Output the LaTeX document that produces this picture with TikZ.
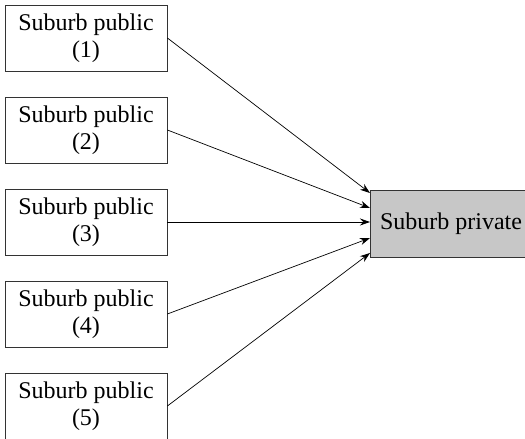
\documentclass[tikz,border=0pt]{standalone}
\usepackage{fontspec}
\setmainfont{Liberation Serif}
\usetikzlibrary{arrows.meta}
\begin{document}
\begin{tikzpicture}[x=1pt,y=1pt,
  pubbox/.style={draw=black!80,line width=0.8pt,minimum width=162pt,minimum height=66pt,inner sep=0pt,align=center,font=\fontsize{24}{27}\selectfont},
  privbox/.style={draw=black!80,line width=0.8pt,fill=black!22,minimum width=162pt,minimum height=67pt,inner sep=0pt,align=center,font=\fontsize{24}{27}\selectfont},
  conn/.style={line width=0.7pt,-{Stealth[length=10pt,width=7pt]}}]
\useasboundingbox (0,0) rectangle (525,439);
\begin{scope}
\clip (0,0) rectangle (525,439);
\node[pubbox] (p1) at (86,401) {Suburb public\\(1)};
\node[pubbox] (p2) at (86,309) {Suburb public\\(2)};
\node[pubbox] (p3) at (86,217) {Suburb public\\(3)};
\node[pubbox] (p4) at (86,125) {Suburb public\\(4)};
\node[pubbox] (p5) at (86,33) {Suburb public\\(5)};
\node[privbox] (pr) at (451,215.5) {Suburb private};
\coordinate (e1) at (370,246);
\coordinate (e2) at (370,231);
\coordinate (e3) at (370,217);
\coordinate (e4) at (370,201);
\coordinate (e5) at (370,186);
\draw[conn] (p1.east) -- (e1);
\draw[conn] (p2.east) -- (e2);
\draw[conn] (p3.east) -- (e3);
\draw[conn] (p4.east) -- (e4);
\draw[conn] (p5.east) -- (e5);
\end{scope}
\end{tikzpicture}
\end{document}
